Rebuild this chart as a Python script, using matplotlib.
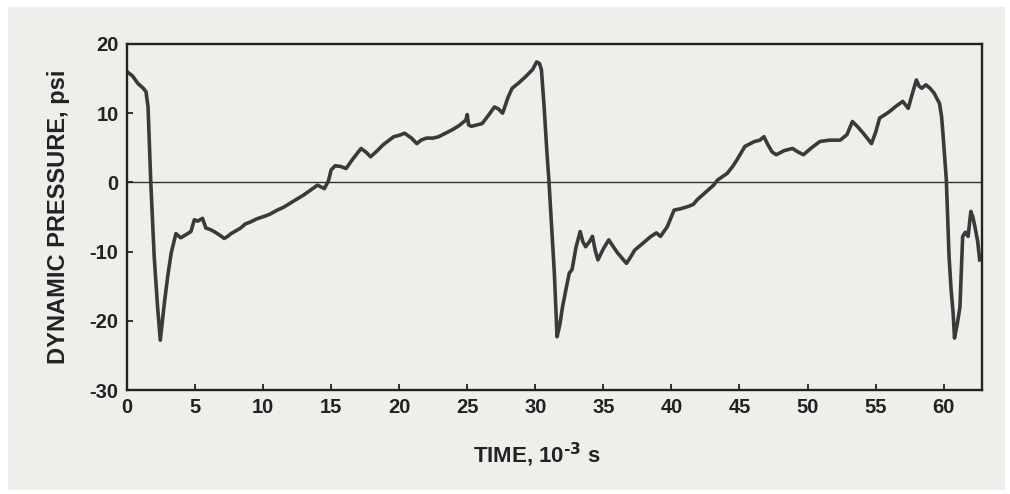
import matplotlib
matplotlib.use("Agg")
import matplotlib.pyplot as plt
from matplotlib.patches import Rectangle

plt.rcParams['font.family'] = ['Liberation Sans', 'DejaVu Sans']
plt.rcParams['font.weight'] = 'bold'
plt.rcParams['mathtext.default'] = 'regular'
plt.rcParams['axes.unicode_minus'] = False

# Dynamic pressure trace, two full cycles (time in ms, pressure in psi)
time_ms = [
    0.0, 0.4, 0.8, 1.2, 1.4, 1.55, 1.75, 2.0, 2.25, 2.45,
    2.75, 3.0, 3.25, 3.6, 3.95, 4.3, 4.7, 4.95, 5.2, 5.55,
    5.8, 6.1, 6.4, 6.8, 7.15, 7.4, 7.65, 8.0, 8.35, 8.7,
    9.1, 9.5, 10.1, 10.5, 11.05, 11.5, 12.0, 12.5, 13.0, 13.5,
    14.0, 14.5, 14.8, 15.0, 15.3, 15.7, 16.1, 16.6, 17.2, 17.6,
    17.9, 18.4, 18.8, 19.2, 19.6, 20.0, 20.4, 20.9, 21.3, 21.6,
    22.0, 22.5, 22.9, 23.4, 23.9, 24.4, 24.9, 25.0, 25.1, 25.3,
    25.7, 26.1, 26.6, 27.0, 27.3, 27.6, 28.0, 28.3, 28.8, 29.3,
    29.8, 30.1, 30.3, 30.45, 30.65, 30.85, 31.0, 31.2, 31.4, 31.6,
    31.8, 32.0, 32.3, 32.5, 32.7, 33.0, 33.3, 33.5, 33.7, 34.0,
    34.2, 34.4, 34.6, 35.0, 35.4, 35.7, 36.05, 36.4, 36.7, 37.0,
    37.3, 37.9, 38.5, 38.9, 39.2, 39.7, 40.2, 40.7, 41.2, 41.6,
    41.9, 42.3, 42.7, 43.1, 43.4, 43.8, 44.1, 44.5, 44.8, 45.1,
    45.4, 45.8, 46.1, 46.5, 46.8, 47.1, 47.4, 47.7, 48.3, 48.9,
    49.3, 49.7, 50.3, 50.9, 51.6, 52.4, 52.9, 53.3, 53.7, 54.1,
    54.7, 55.0, 55.3, 55.7, 56.0, 56.5, 57.0, 57.4, 57.7, 58.0,
    58.2, 58.4, 58.7, 59.0, 59.3, 59.7, 59.85, 59.95, 60.1, 60.2,
    60.4, 60.55, 60.7, 60.8, 61.0, 61.2, 61.4, 61.6, 61.8, 62.0,
    62.15, 62.3, 62.5, 62.65,
]
pressure_psi = [
    16.0, 15.4, 14.3, 13.6, 13.1, 10.9, 0.0, -10.7, -18.0, -22.8,
    -17.4, -13.5, -10.2, -7.4, -8.0, -7.6, -7.1, -5.4, -5.6, -5.2,
    -6.6, -6.8, -7.1, -7.6, -8.1, -7.8, -7.4, -7.0, -6.6, -6.0,
    -5.7, -5.3, -4.9, -4.6, -4.0, -3.6, -3.0, -2.4, -1.8, -1.1,
    -0.4, -0.9, 0.2, 1.8, 2.4, 2.3, 2.0, 3.4, 4.9, 4.3,
    3.7, 4.6, 5.4, 6.0, 6.6, 6.8, 7.1, 6.4, 5.6, 6.1,
    6.4, 6.4, 6.6, 7.1, 7.6, 8.2, 9.0, 9.8, 8.3, 8.1,
    8.3, 8.5, 9.8, 10.9, 10.6, 10.0, 12.3, 13.6, 14.4, 15.3,
    16.3, 17.4, 17.2, 16.3, 10.9, 4.5, 0.3, -6.5, -13.1, -22.3,
    -20.6, -18.0, -15.0, -13.1, -12.6, -9.3, -7.1, -8.6, -9.3, -8.5,
    -7.8, -9.8, -11.2, -9.6, -8.3, -9.2, -10.2, -11.0, -11.7, -10.8,
    -9.8, -8.8, -7.8, -7.3, -7.8, -6.4, -4.0, -3.8, -3.5, -3.2,
    -2.5, -1.8, -1.1, -0.4, 0.35, 0.9, 1.3, 2.3, 3.2, 4.2,
    5.2, 5.6, 5.9, 6.1, 6.6, 5.4, 4.4, 4.0, 4.6, 4.9,
    4.4, 4.0, 5.0, 5.9, 6.1, 6.1, 6.9, 8.8, 8.0, 7.1,
    5.6, 7.2, 9.3, 9.8, 10.2, 11.0, 11.7, 10.7, 12.8, 14.8,
    13.9, 13.6, 14.1, 13.6, 12.9, 11.4, 9.5, 7.1, 3.0, 0.35,
    -10.7, -15.5, -18.9, -22.5, -20.5, -18.0, -7.8, -7.2, -7.8, -4.2,
    -5.0, -6.4, -8.5, -11.2,
]

x_ticks = [0, 5, 10, 15, 20, 25, 30, 35, 40, 45, 50, 55, 60]
y_ticks = [-30, -20, -10, 0, 10, 20]

paper = '#eeeeeb'
ink = '#222222'

fig = plt.figure(figsize=(10.1, 4.94), dpi=100, facecolor='white')
fig.patches.append(Rectangle((0.008, 0.008), 0.987, 0.978, transform=fig.transFigure,
                             facecolor=paper, edgecolor='none', zorder=-10))
ax = fig.add_axes([0.1257, 0.2105, 0.8463, 0.7005])
ax.set_facecolor(paper)

ax.axhline(0, color='#333333', lw=1.0, zorder=1)
ax.plot(time_ms, pressure_psi, color='#3a3a3a', lw=2.6, solid_joinstyle='round', zorder=2)

ax.set_xlim(0, 62.8)
ax.set_ylim(-30, 20)
ax.set_xticks(x_ticks)
ax.set_yticks(y_ticks)

for side in ['top', 'bottom', 'left', 'right']:
    ax.spines[side].set_linewidth(1.7)
    ax.spines[side].set_color(ink)

ax.tick_params(direction='in', length=4, width=1.3, colors=ink, labelsize=14.5, pad=6)
for lbl in ax.get_xticklabels() + ax.get_yticklabels():
    lbl.set_fontweight('bold')

# \text keeps the exponent sign a plain hyphen, like the tick labels
ax.set_xlabel(r'TIME, 10$^{\text{-3}}$ s', fontsize=16, fontweight='bold', color=ink)
ax.set_ylabel('DYNAMIC PRESSURE, psi', fontsize=17, fontweight='bold', color=ink, labelpad=14)
ax.xaxis.set_label_coords(0.48, -0.148)

fig.savefig('out.png', dpi=100, facecolor=fig.get_facecolor())
